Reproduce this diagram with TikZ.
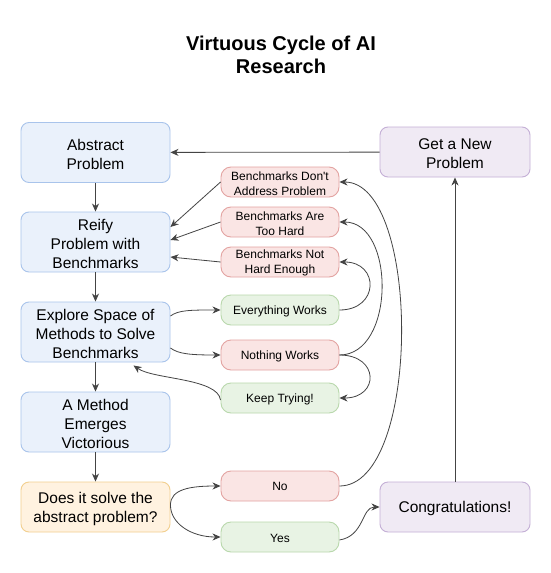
\documentclass[tikz,border=0pt]{standalone}
\usepackage{fontspec}
\setmainfont{Liberation Sans}[Ligatures=TeXOff]
\usetikzlibrary{arrows.meta}
\definecolor{bluef}{HTML}{EAF1FB}\definecolor{blued}{HTML}{A9C4EB}
\definecolor{orf}{HTML}{FFF2E0}\definecolor{ord}{HTML}{F2CF8F}
\definecolor{puf}{HTML}{F0EAF4}\definecolor{pud}{HTML}{C4AFD6}
\definecolor{ref}{HTML}{FAE5E4}\definecolor{red2}{HTML}{E3A3A1}
\definecolor{grf}{HTML}{E8F3E4}\definecolor{grd}{HTML}{B9D8AC}
\definecolor{edgec}{HTML}{444444}
\newcommand{\bigstrut}{\rule{0pt}{14.5pt}}
\newcommand{\smstrut}{\rule{0pt}{11.3pt}}
\tikzset{
  bigbox/.style={draw=blued, fill=bluef, line width=0.9pt, rounded corners=8pt, minimum width=149pt, minimum height=60pt, inner sep=0pt, align=center, font=\fontsize{15.5}{19}\selectfont},
  smallbox/.style={draw=red2, fill=ref, line width=0.9pt, rounded corners=10pt, minimum width=118pt, minimum height=30pt, inner sep=0pt, align=center, font=\fontsize{12}{15}\selectfont},
  redbox/.style={smallbox},
  greenbox/.style={smallbox, draw=grd, fill=grf},
  conn/.style={draw=edgec, line width=0.8pt, -{Stealth[length=8pt,width=7pt,inset=2.5pt]}},
}
\begin{document}
\begin{tikzpicture}[x=1pt,y=-1pt]
\useasboundingbox (0,0) rectangle (551,573);
\fill[white] (0,0) rectangle (551,573);
\node[align=center, font=\fontsize{20}{23}\selectfont\bfseries] (title) at (281,54.5) {Virtuous Cycle of AI\\Research};
\node[bigbox] (abs) at (95.5,152.5) {\bigstrut Abstract\\Problem};
\node[bigbox] (reify) at (95.5,242) {\bigstrut Reify\\Problem with\\Benchmarks};
\node[bigbox] (explore) at (95.5,332) {\bigstrut Explore Space of\\Methods to Solve\\Benchmarks};
\node[bigbox] (method) at (95.5,422) {\bigstrut A Method\\Emerges\\Victorious};
\node[bigbox, draw=ord, fill=orf, minimum height=50pt] (does) at (95.5,507) {\bigstrut Does it solve the\\abstract problem?};
\node[bigbox, draw=pud, fill=puf, minimum width=150pt, minimum height=50pt] (newp) at (455,152) {\bigstrut Get a New\\Problem};
\node[bigbox, draw=pud, fill=puf, minimum width=150pt, minimum height=50pt] (congr) at (455,507) {\bigstrut Congratulations!};
\node[redbox] (dont) at (280,182) {\smstrut Benchmarks Don't\\Address Problem};
\node[redbox] (hard) at (280,222) {\smstrut Benchmarks Are\\Too Hard};
\node[redbox] (nothard) at (280,262) {\smstrut Benchmarks Not\\Hard Enough};
\node[greenbox] (every) at (280,310) {\smstrut Everything Works};
\node[redbox] (nothing) at (280,355) {\smstrut Nothing Works};
\node[greenbox] (keep) at (280,398) {\smstrut Keep Trying!};
\node[redbox] (no) at (280,486) {No};
\node[greenbox] (yes) at (280,537) {\smstrut Yes};
% vertical chain
\draw[conn] (abs) -- (reify);
\draw[conn] (reify) -- (explore);
\draw[conn] (explore) -- (method);
\draw[conn] (method) -- (does);
\draw[conn] (newp) -- (abs);
\draw[conn] (congr) -- (newp);
% into reify
\draw[conn] (dont.west) -- ([yshift=15pt]reify.east);
\draw[conn] (hard.west) -- ([yshift=2pt]reify.east);
\draw[conn] (nothard.west) -- ([yshift=-15pt]reify.east);
% from explore
\draw[conn] ([yshift=16pt]explore.east) .. controls +(8,-6) and +(-30,0) .. (every.west);
\draw[conn] ([yshift=-16pt]explore.east) .. controls +(8,6) and +(-30,0) .. (nothing.west);
\draw[conn] ([yshift=-2pt]keep.west) .. controls +(-3,-22) and +(20,14) .. ([xshift=38pt,yshift=-3pt]explore.south);
% right loops
\draw[conn] (every.east) .. controls +(40,0) and +(40,0) .. (nothard.east);
\draw[conn] (nothing.east) .. controls +(56,0) and +(56,0) .. (hard.east);
\draw[conn] (nothing.east) .. controls +(40,0) and +(40,0) .. (keep.east);
\draw[conn] (no.east) .. controls +(82,0) and +(82,0) .. (dont.east);
% decision
\draw[conn] ([yshift=2pt]does.east) .. controls +(0,-16) and +(-30,0) .. (no.west);
\draw[conn] ([yshift=2pt]does.east) .. controls +(0,18) and +(-30,0) .. (yes.west);
\draw[conn] ([yshift=-3pt]yes.east) .. controls +(25,-4) and +(-18,0) .. (congr.west);
\end{tikzpicture}
\end{document}
